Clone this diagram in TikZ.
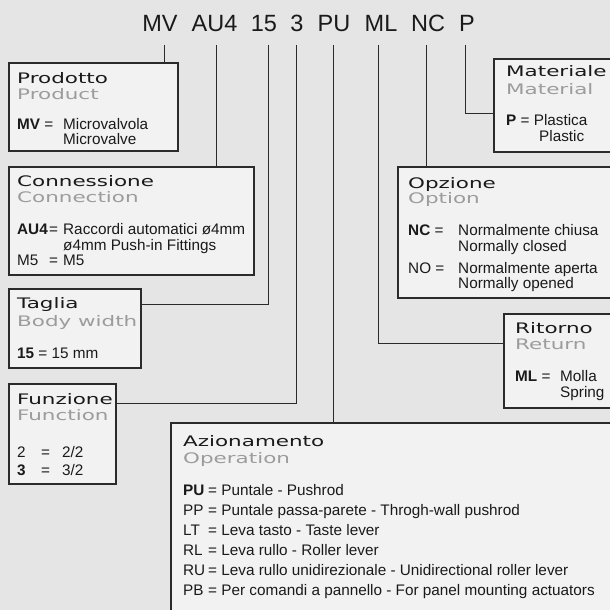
\documentclass[tikz,border=0pt]{standalone}
\usepackage{fontspec}
\setmainfont{Liberation Sans}
\newfontfamily\hfont[FakeStretch=1.48]{DejaVu Sans}
\definecolor{bg}{HTML}{E5E5E5}
\definecolor{boxfill}{HTML}{F2F2F2}
\definecolor{edge}{HTML}{2B2B2B}
\definecolor{ink}{HTML}{1A1A1A}
\definecolor{subgray}{HTML}{9C9C9C}
\tikzset{
  box/.style={draw=edge, fill=boxfill, line width=1.1pt, anchor=north west, inner sep=0pt, outer sep=0pt},
  conn/.style={draw=edge, line width=1pt},
  code/.style={anchor=base, inner sep=0pt, text=ink, font=\fontsize{23.5}{26}\selectfont},
  txt/.style={anchor=base west, inner sep=0pt, text=ink, font=\fontsize{15.3}{18}\selectfont},
  head/.style={anchor=base west, inner sep=0pt, text=ink, font=\hfont\fontsize{14.5}{17}\selectfont},
  subhead/.style={head, text=subgray}
}
\begin{document}
\begin{tikzpicture}[x=1pt,y=-1pt]
\useasboundingbox (0,0) rectangle (610,610);
\fill[bg] (0,0) rectangle (610,610);

% code words
\node[code] (cMV) at (160,32) {MV};
\node[code] (cAU) at (214.5,32) {AU4};
\node[code] (c15) at (264,32) {15};
\node[code] (c3) at (297,32) {3};
\node[code] (cPU) at (334,32) {PU};
\node[code] (cML) at (381,32) {ML};
\node[code] (cNC) at (428,32) {NC};
\node[code] (cP) at (467,32) {P};

% boxes
\node[box, minimum width=169pt, minimum height=88pt] (prod) at (9,63) {};
\node[box, minimum width=245pt, minimum height=108pt] (conn) at (9,167) {};
\node[box, minimum width=132pt, minimum height=79pt] (tag) at (9,289) {};
\node[box, minimum width=107pt, minimum height=100pt] (fun) at (9,384) {};
\node[box, minimum width=445pt, minimum height=195pt] (azi) at (171,423) {};
\node[box, minimum width=120pt, minimum height=93pt] (mat) at (494,59) {};
\node[box, minimum width=216pt, minimum height=131pt] (opz) at (398,167) {};
\node[box, minimum width=110pt, minimum height=94pt] (rit) at (504,314) {};

% connector tops
\coordinate (lMV) at (164,45);
\coordinate (lAU) at (216,45);
\coordinate (l15) at (268,45);
\coordinate (l3) at (296,45);
\coordinate (lPU) at (333,45);
\coordinate (lML) at (378,45);
\coordinate (lNC) at (426,45);
\coordinate (lP) at (465,45);
\coordinate (b15) at (268,304);
\coordinate (b3) at (296,403);
\coordinate (bML) at (378,343);
\coordinate (bP) at (465,113);

\draw[conn] (lMV) -- (lMV |- prod.north);
\draw[conn] (lAU) -- (lAU |- conn.north);
\draw[conn] (l15) -- (b15) -- (b15 -| tag.east);
\draw[conn] (l3) -- (b3) -- (b3 -| fun.east);
\draw[conn] (lPU) -- (lPU |- azi.north);
\draw[conn] (lML) -- (bML) -- (bML -| rit.west);
\draw[conn] (lNC) -- (lNC |- opz.north);
\draw[conn] (lP) -- (bP) -- (bP -| mat.west);

% Prodotto
\node[head] (prodH) at (17,83) {Prodotto};
\node[subhead] (prodS) at (17,99) {Product};
\node[txt] (prodK) at (17,129) {\textbf{MV} =};
\node[txt] (prodA) at (63,129) {Microvalvola};
\node[txt] (prodB) at (63,144) {Microvalve};

% Connessione
\node[head] (connH) at (17,186) {Connessione};
\node[subhead] (connS) at (17,202) {Connection};
\node[txt] (connK1) at (17,234) {\textbf{AU4}};
\node[txt] (connE1) at (49,234) {=};
\node[txt] (connA) at (63,234) {Raccordi automatici ø4mm};
\node[txt] (connB) at (63,250) {ø4mm Push-in Fittings};
\node[txt] (connK2) at (17,265) {M5};
\node[txt] (connE2) at (49,265) {=};
\node[txt] (connC) at (63,265) {M5};

% Taglia
\node[head] (tagH) at (17,308) {Taglia};
\node[subhead] (tagS) at (17,326) {Body width};
\node[txt] (tagA) at (17,358) {\textbf{15} = 15 mm};

% Funzione
\node[head] (funH) at (17,404) {Funzione};
\node[subhead] (funS) at (17,420) {Function};
\node[txt] (funK1) at (17,457) {2};
\node[txt] (funE1) at (41,457) {=};
\node[txt] (funA) at (62,457) {2/2};
\node[txt] (funK2) at (17,475) {\textbf{3}};
\node[txt] (funE2) at (41,475) {=};
\node[txt] (funB) at (62,475) {3/2};

% Azionamento
\node[head] (aziH) at (183,446) {Azionamento};
\node[subhead] (aziS) at (183,463) {Operation};
\node[txt] (aziK1) at (183,495) {\textbf{PU}};
\node[txt] (aziA1) at (208,495) {= Puntale - Pushrod};
\node[txt] (aziK2) at (183,515) {PP};
\node[txt] (aziA2) at (208,515) {= Puntale passa-parete - Throgh-wall pushrod};
\node[txt] (aziK3) at (183,535) {LT};
\node[txt] (aziA3) at (208,535) {= Leva tasto - Taste lever};
\node[txt] (aziK4) at (183,555) {RL};
\node[txt] (aziA4) at (208,555) {= Leva rullo - Roller lever};
\node[txt] (aziK5) at (183,575) {RU};
\node[txt] (aziA5) at (208,575) {= Leva rullo unidirezionale - Unidirectional roller lever};
\node[txt] (aziK6) at (183,595) {PB};
\node[txt] (aziA6) at (208,595) {= Per comandi a pannello - For panel mounting actuators};

% Materiale
\node[head] (matH) at (506,77) {Materiale};
\node[subhead] (matS) at (506,94) {Material};
\node[txt] (matA) at (506,125) {\textbf{P} = Plastica};
\node[txt] (matB) at (539,141) {Plastic};

% Opzione
\node[head] (opzH) at (408,188) {Opzione};
\node[subhead] (opzS) at (408,203) {Option};
\node[txt] (opzK1) at (408,235) {\textbf{NC} =};
\node[txt] (opzA) at (458,235) {Normalmente chiusa};
\node[txt] (opzB) at (458,251) {Normally closed};
\node[txt] (opzK2) at (408,273) {NO =};
\node[txt] (opzC) at (458,273) {Normalmente aperta};
\node[txt] (opzD) at (458,288) {Normally opened};

% Ritorno
\node[head] (ritH) at (515,333) {Ritorno};
\node[subhead] (ritS) at (515,349) {Return};
\node[txt] (ritK) at (515,381) {\textbf{ML} =};
\node[txt] (ritA) at (560,381) {Molla};
\node[txt] (ritB) at (560,397) {Spring};
\end{tikzpicture}
\end{document}
